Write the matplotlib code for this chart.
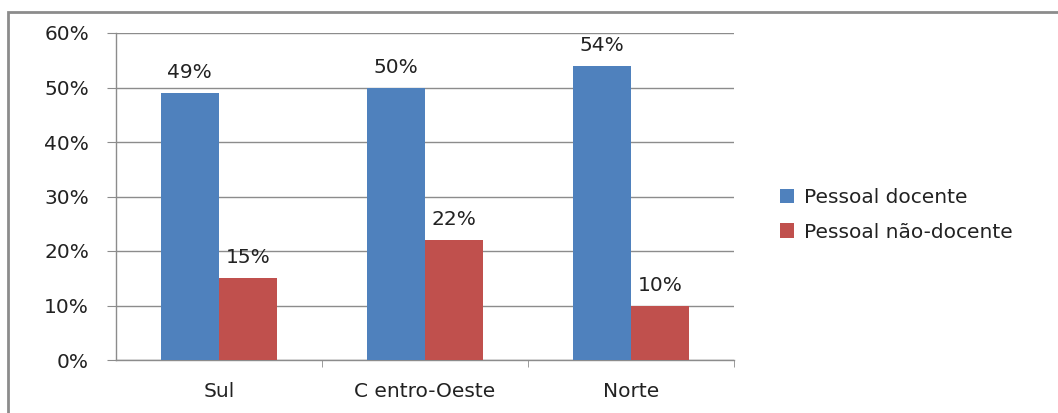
import matplotlib
matplotlib.use("Agg")
import matplotlib.pyplot as plt
import numpy as np
from matplotlib.patches import Rectangle

regions = ["Sul", "C entro-Oeste", "Norte"]
docente = [49, 50, 54]
nao_docente = [15, 22, 10]
series_names = ["Pessoal docente", "Pessoal não-docente"]

blue = "#4f81bd"
red = "#c0504d"
grey = "#8c8c8c"
fs = 14.5

fig = plt.figure(figsize=(10.58, 4.13), dpi=100)
ax = fig.add_axes([116 / 1058, 1 - 360 / 413, 618 / 1058, 327 / 413])

x = np.arange(len(regions))
w = 0.283
b1 = ax.bar(x - w / 2, docente, w, color=blue, label=series_names[0], zorder=3)
b2 = ax.bar(x + w / 2, nao_docente, w, color=red, label=series_names[1], zorder=3)

for bars, vals in ((b1, docente), (b2, nao_docente)):
    for bar, v in zip(bars, vals):
        ax.text(bar.get_x() + bar.get_width() / 2, v + 2.0, "%d%%" % v,
                ha="center", va="bottom", fontsize=fs, color="#222222")

ax.set_xlim(-0.5, 2.5)
ax.set_ylim(0, 60)
ax.set_yticks(range(0, 61, 10))
ax.set_yticklabels(["%d%%" % t for t in range(0, 61, 10)], fontsize=fs, color="#222222")
ax.yaxis.grid(True, color=grey, linewidth=1.0, zorder=0)
ax.set_axisbelow(True)

ax.set_xticks(x)
ax.set_xticklabels(regions, fontsize=fs, color="#222222")
ax.tick_params(axis="x", length=0, pad=16)
ax.set_xticks([0.5, 1.5, 2.5], minor=True)
ax.tick_params(axis="x", which="minor", length=5, color=grey)
ax.tick_params(axis="y", length=6.5, color=grey, pad=13)

for s in ["top", "right"]:
    ax.spines[s].set_visible(False)
for s in ["left", "bottom"]:
    ax.spines[s].set_color(grey)
    ax.spines[s].set_linewidth(1.0)

leg = fig.legend(loc="center left", bbox_to_anchor=(762 / 1058, 1 - 215 / 413), frameon=False,
                 fontsize=fs, handlelength=0.7, handleheight=0.7,
                 handletextpad=0.5, labelspacing=0.75)
for t in leg.get_texts():
    t.set_color("#222222")

fig.patches.append(Rectangle((8 / 1058, -0.1), 1.2, 1 - 12 / 413 + 0.1,
                             transform=fig.transFigure, fill=False,
                             edgecolor=grey, linewidth=2))

fig.savefig("out.png", dpi=100)
